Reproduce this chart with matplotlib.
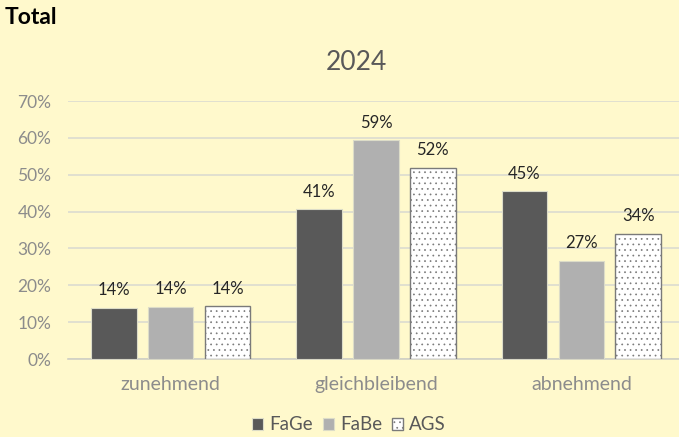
import numpy as np
import matplotlib.pyplot as plt

plt.rcParams['font.family'] = ['Lato', 'DejaVu Sans']
plt.rcParams['hatch.color'] = '#6e6e6e'
plt.rcParams['hatch.linewidth'] = 0.5

# Daten
categories = ["zunehmend", "gleichbleibend", "abnehmend"]
series_names = ["FaGe", "FaBe", "AGS"]
fage = [0.139, 0.406, 0.455]
fabe = [0.142, 0.593, 0.266]
ags = [0.143, 0.518, 0.339]
labels_fage = ["14%", "41%", "45%"]
labels_fabe = ["14%", "59%", "27%"]
labels_ags = ["14%", "52%", "34%"]

bg = '#FFF9CC'
fig = plt.figure(figsize=(6.79, 4.37), dpi=100)
fig.patch.set_facecolor(bg)
ax = fig.add_axes([68 / 679, 78 / 437, 616 / 679, 258 / 437])
ax.set_facecolor(bg)

x = np.arange(len(categories))
width = 0.222
step = 0.277

b1 = ax.bar(x - step, fage, width, color='#595959', edgecolor='#dcdcc8', linewidth=0.8, label=series_names[0], zorder=3)
b2 = ax.bar(x, fabe, width, color='#b0b0b0', edgecolor='#dcdcc8', linewidth=0.8, label=series_names[1], zorder=3)
b3 = ax.bar(x + step, ags, width, color='white', edgecolor='#7a7a7a', linewidth=1.0, hatch='...', label=series_names[2], zorder=3)

# Datenbeschriftungen
for bars, labs in [(b1, labels_fage), (b2, labels_fabe), (b3, labels_ags)]:
    for bar, lab in zip(bars, labs):
        ax.annotate(lab, (bar.get_x() + bar.get_width() / 2, bar.get_height()),
                    xytext=(0, 7), textcoords='offset points', ha='center', va='bottom',
                    fontsize=12, color='#262626')

ax.set_xlim(-0.5, 2.5)
ax.set_ylim(0, 0.7)
ax.set_yticks(np.arange(0, 0.71, 0.1))
ax.set_yticklabels([f"{int(round(v * 100))}%" for v in np.arange(0, 0.71, 0.1)])
ax.set_xticks(x)
ax.set_xticklabels(categories)
ax.tick_params(axis='y', length=0, labelsize=12.5, labelcolor='#8c8c8c', pad=12)
ax.tick_params(axis='x', length=0, labelsize=14, labelcolor='#8c8c8c', pad=12)
ax.grid(axis='y', color='#dcdcd0', linewidth=1.2, zorder=0)
for s in ['top', 'right', 'left']:
    ax.spines[s].set_visible(False)
ax.spines['bottom'].set_color('#d0d0c4')
ax.spines['bottom'].set_linewidth(1.2)

fig.text(356 / 679, 1 - 62 / 437, "2024", ha='center', va='center', fontsize=19, color='#595959')
fig.text(5 / 679, 1 - 17 / 437, "Total", ha='left', va='center', fontsize=16.5, fontweight='bold', color='black')

fig.legend(handles=[b1, b2, b3], loc='center', bbox_to_anchor=(349 / 679, 1 - 425 / 437),
           ncol=3, frameon=False, fontsize=13.5, labelcolor='#595959',
           handlelength=0.6, handleheight=0.6, handletextpad=0.3, columnspacing=0.55)

plt.savefig("out.png", dpi=100, facecolor=bg)
